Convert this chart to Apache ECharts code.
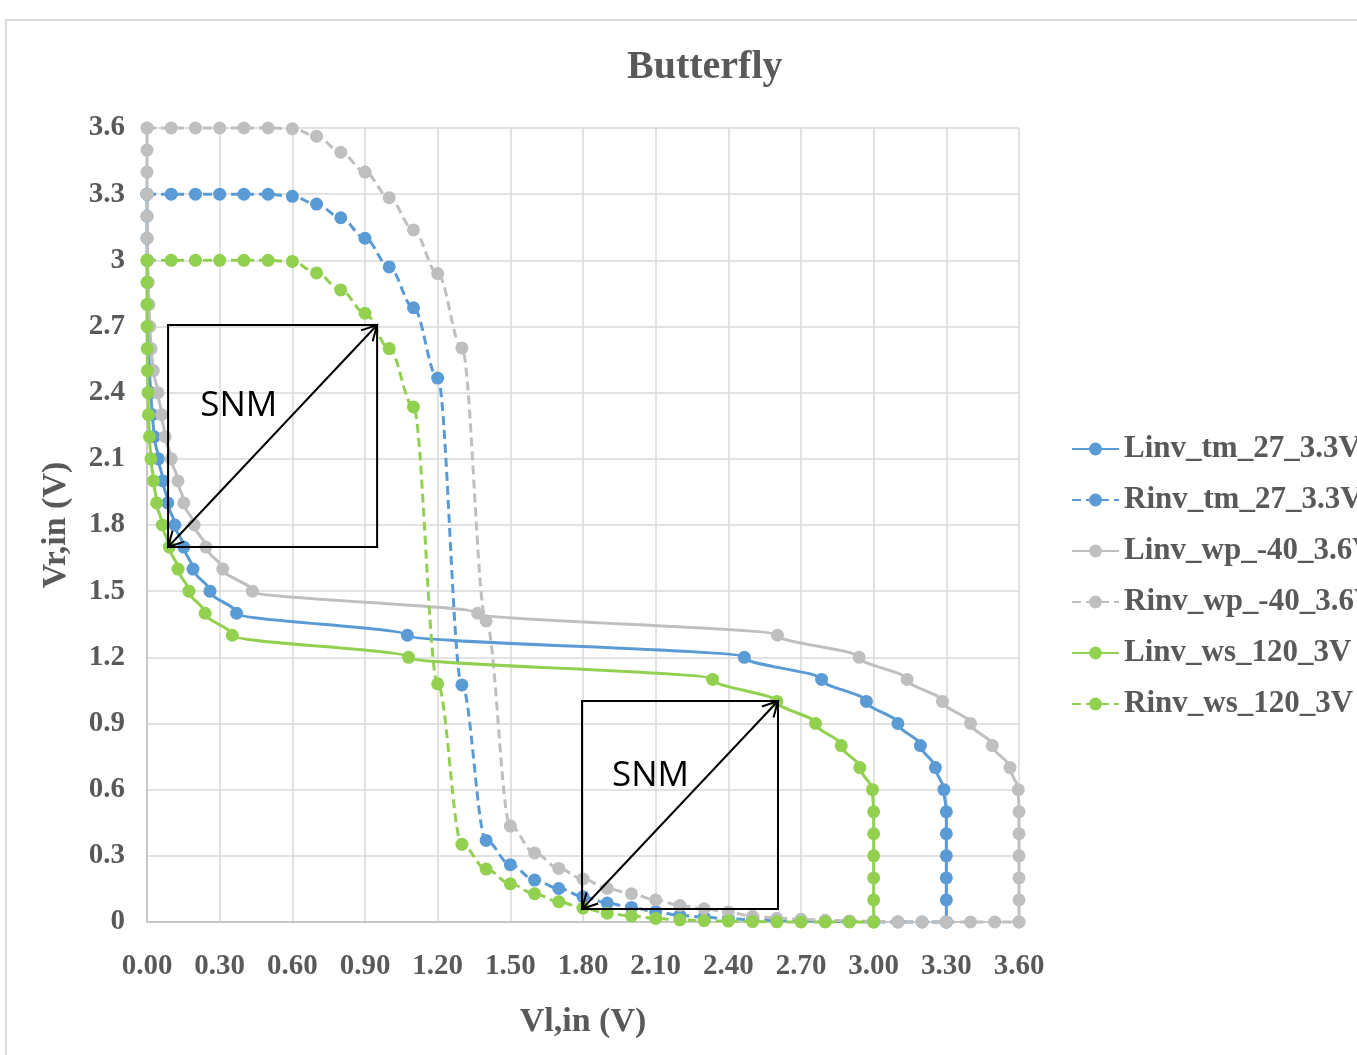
<!DOCTYPE html>
<html>
<head>
<meta charset="utf-8">
<script src="https://cdn.jsdelivr.net/npm/echarts@6/dist/echarts.min.js"></script>
<style>
html,body{margin:0;padding:0;background:#fff;}
#chart{width:1357px;height:1055px;}
</style>
</head>
<body>
<div id="chart"></div>
<script>
// Input voltage steps (V)
const VIN = [0.0,0.1,0.2,0.3,0.4,0.5,0.6,0.7,0.8,0.9,1.0,1.1,1.2,1.3,1.4,1.5,1.6,1.7,1.8,1.9,2.0,2.1,2.2,2.3,2.4,2.5,2.6,2.7,2.8,2.9,3.0,3.1,3.2,3.3,3.4,3.5,3.6];
// Inverter output voltages at each VIN step
const VOUT_TM = [3.3,3.3,3.3,3.3,3.3,3.3,3.29,3.255,3.193,3.10,2.97,2.785,2.466,1.075,0.37,0.26,0.19,0.152,0.115,0.086,0.066,0.047,0.03,0.022,0.015,0.01,0.007,0.005,0.003,0.002,0.001,0,0,0];
const VOUT_WP = [3.6,3.6,3.6,3.6,3.6,3.6,3.597,3.563,3.49,3.40,3.284,3.138,2.94,2.603,1.365,0.435,0.313,0.243,0.195,0.152,0.128,0.10,0.075,0.06,0.045,0.026,0.017,0.012,0.008,0.005,0.003,0.001,0,0,0,0,0];
const VOUT_WS = [3.0,3.0,3.0,3.0,3.0,3.0,2.995,2.943,2.866,2.76,2.60,2.335,1.08,0.352,0.24,0.173,0.128,0.092,0.063,0.04,0.027,0.016,0.01,0.006,0.004,0.002,0.001,0,0,0,0];

const SERIES_NAMES = ['Linv_tm_27_3.3V','Rinv_tm_27_3.3V','Linv_wp_-40_3.6V','Rinv_wp_-40_3.6V','Linv_ws_120_3V','Rinv_ws_120_3V'];
// SNM annotation boxes in data units: [xMin, yMin, xMax, yMax]
const SNM_BOXES = [[0.087,1.70,0.95,2.707],[1.796,0.059,2.605,1.002]];
const SNM_LABEL_POS = [[0.22,2.34],[1.92,0.66]];

const COLORS = {tm:'#5b9bd5', wp:'#bfbfbf', ws:'#92d050'};
const SERIF = '"Liberation Serif","Times New Roman",serif';

function mkSeries(name, data, color, dashed){
  return {
    name: name, type:'line', data: data, color: color,
    smooth: 0.35, smoothMonotone: dashed ? 'x' : 'y',
    symbol:'circle', symbolSize:13, showAllSymbol:true, clip:false,
    lineStyle:{width:3, color: color, type: dashed ? [9,5] : 'solid'},
    itemStyle:{color: color},
    emphasis:{disabled:true}
  };
}
const L = (arr) => arr.map((o,i)=>[o, VIN[i]]);
const R = (arr) => arr.map((o,i)=>[VIN[i], o]);

const chart = echarts.init(document.getElementById('chart'));
const option = {
  animation:false,
  backgroundColor:'#fff',
  title:{text:'Butterfly', left:622, top:43,
    textStyle:{fontFamily:SERIF, fontWeight:'bold', fontSize:40, color:'#595959'}},
  grid:{left:147, right:338, top:128, bottom:133, containLabel:false},
  legend:{
    orient:'vertical', left:1066, top:426, itemWidth:47, itemHeight:16, itemGap:15,
    textStyle:{fontFamily:SERIF, fontWeight:'bold', fontSize:31, color:'#595959', lineHeight:36},
    data: SERIES_NAMES
  },
  xAxis:{
    type:'value', min:0, max:3.6, interval:0.3,
    name:'Vl,in (V)', nameLocation:'middle', nameGap:83,
    nameTextStyle:{fontFamily:SERIF, fontWeight:'bold', fontSize:34, color:'#595959'},
    axisLine:{show:true, lineStyle:{color:'#bfbfbf', width:1.5}},
    axisTick:{show:false},
    splitLine:{show:true, lineStyle:{color:'#d9d9d9', width:1.5}},
    axisLabel:{margin:30, fontFamily:SERIF, fontWeight:'bold', fontSize:29, color:'#595959',
      formatter:(v)=>v.toFixed(2)}
  },
  yAxis:{
    type:'value', min:0, max:3.6, interval:0.3,
    name:'Vr,in (V)', nameLocation:'middle', nameGap:74,
    nameTextStyle:{fontFamily:SERIF, fontWeight:'bold', fontSize:34, color:'#595959'},
    axisLine:{show:true, lineStyle:{color:'#bfbfbf', width:1.5}},
    axisTick:{show:false},
    splitLine:{show:true, lineStyle:{color:'#d9d9d9', width:1.5}},
    axisLabel:{margin:22, fontFamily:SERIF, fontWeight:'bold', fontSize:29, color:'#595959',
      formatter:(v)=>String(Number(v.toFixed(1)))}
  },
  series:[
    mkSeries(SERIES_NAMES[0], L(VOUT_TM), COLORS.tm, false),
    mkSeries(SERIES_NAMES[1], R(VOUT_TM), COLORS.tm, true),
    mkSeries(SERIES_NAMES[2], L(VOUT_WP), COLORS.wp, false),
    mkSeries(SERIES_NAMES[3], R(VOUT_WP), COLORS.wp, true),
    mkSeries(SERIES_NAMES[4], L(VOUT_WS), COLORS.ws, false),
    mkSeries(SERIES_NAMES[5], R(VOUT_WS), COLORS.ws, true)
  ]
};
chart.setOption(option);

// Annotations placed through the chart's own coordinate conversion
const g = [];
g.push({type:'rect', shape:{x:6,y:20,width:1400,height:1100}, style:{fill:'none', stroke:'#d9d9d9', lineWidth:2}, z:-10, silent:true});
function arrowHead(p, from){
  const dx = p[0]-from[0], dy = p[1]-from[1];
  const len = Math.hypot(dx,dy); const ux = dx/len, uy = dy/len;
  const a = 28*Math.PI/180, s = 17;
  const r1 = [ux*Math.cos(a)-uy*Math.sin(a), ux*Math.sin(a)+uy*Math.cos(a)];
  const r2 = [ux*Math.cos(-a)-uy*Math.sin(-a), ux*Math.sin(-a)+uy*Math.cos(-a)];
  return {type:'polyline', shape:{points:[[p[0]-s*r1[0], p[1]-s*r1[1]], p, [p[0]-s*r2[0], p[1]-s*r2[1]]]},
    style:{stroke:'#000', lineWidth:2, fill:null}, z:100, silent:true};
}
SNM_BOXES.forEach((b,i)=>{
  const p0 = chart.convertToPixel({gridIndex:0},[b[0],b[1]]);
  const p1 = chart.convertToPixel({gridIndex:0},[b[2],b[3]]);
  const x = Math.min(p0[0],p1[0]), y = Math.min(p0[1],p1[1]);
  g.push({type:'rect', shape:{x:x,y:y,width:Math.abs(p1[0]-p0[0]),height:Math.abs(p1[1]-p0[1])},
    style:{fill:null, stroke:'#000', lineWidth:2}, z:100, silent:true});
  const tr = [Math.max(p0[0],p1[0]), y];
  const bl = [x, Math.max(p0[1],p1[1])];
  g.push({type:'line', shape:{x1:tr[0],y1:tr[1],x2:bl[0],y2:bl[1]}, style:{stroke:'#000', lineWidth:2}, z:100, silent:true});
  g.push(arrowHead(tr, bl));
  g.push(arrowHead(bl, tr));
  const lp = chart.convertToPixel({gridIndex:0}, SNM_LABEL_POS[i]);
  g.push({type:'text', x:lp[0], y:lp[1], style:{text:'SNM', fontFamily:'"Open Sans","Liberation Sans",sans-serif', fontSize:35, fill:'#000', align:'left', verticalAlign:'middle'}, z:101, silent:true});
});
chart.setOption({graphic:g});
</script>
</body>
</html>
